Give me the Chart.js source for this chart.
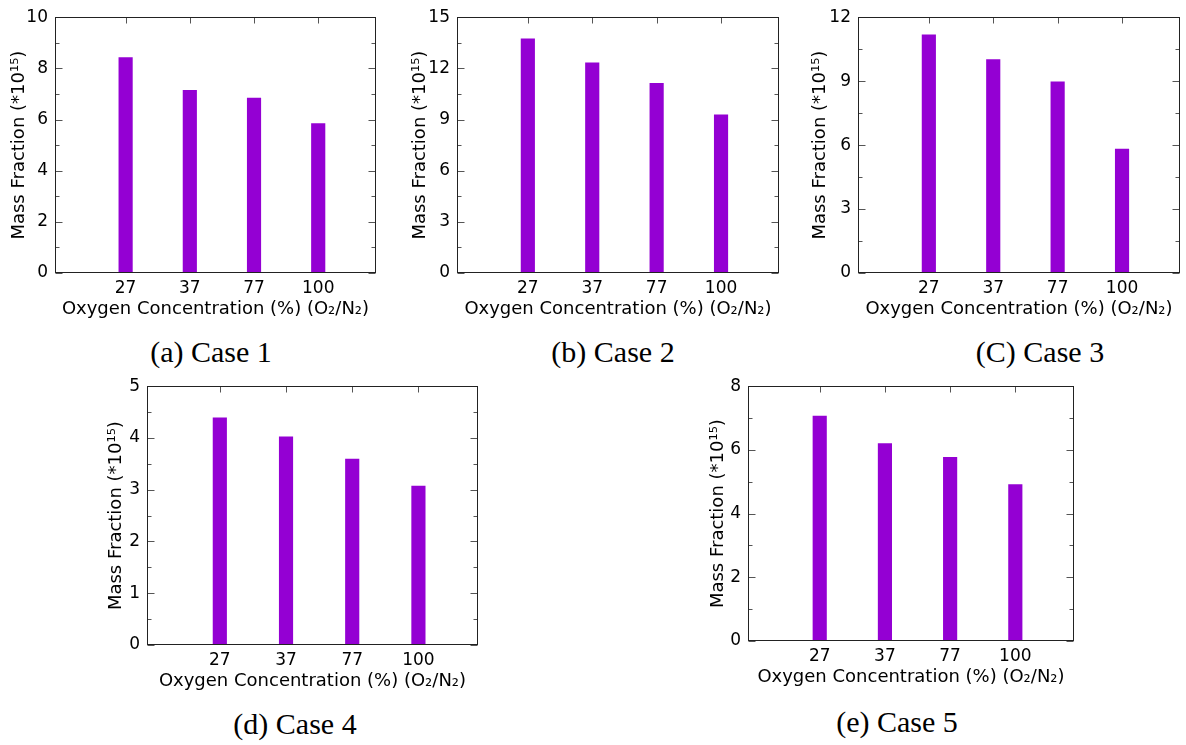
<!DOCTYPE html>
<html>
<head>
<meta charset="utf-8">
<script src="https://cdn.jsdelivr.net/npm/chart.js@4/dist/chart.umd.min.js"></script>
<style>
  body { margin: 0; background: #fff; }
  #page { position: relative; width: 1186px; height: 745px; overflow: hidden; }
  .box { position: absolute; }
  .cap { position: absolute; font-family: "Liberation Serif", serif; font-size: 30px; color: #000;
         transform: translate(-50%, -50%); white-space: nowrap; }
</style>
</head>
<body>
<div id="page"></div>
<script>
// data (values in *10^15)
const oxygenLabels = ['27', '37', '77', '100'];
const case1Values = [8.42, 7.14, 6.84, 5.84];
const case2Values = [13.73, 12.32, 11.12, 9.28];
const case3Values = [11.17, 10.01, 8.97, 5.81];
const case4Values = [4.39, 4.02, 3.59, 3.07];
const case5Values = [7.06, 6.20, 5.77, 4.91];
const yMaxes = [10, 15, 12, 5, 8];
const ySteps = [2, 3, 3, 1, 2];
const captions = ['(a) Case 1', '(b) Case 2', '(C) Case 3', '(d) Case 4', '(e) Case 5'];

const allValues = [case1Values, case2Values, case3Values, case4Values, case5Values];

// plot area on the page: left, top, right, bottom, y-title offset, caption centre
const panels = [
  { l: 55, t: 14, r: 376, b: 273, tp: 8.7, cx: 211, cy: 352 },
  { l: 457, t: 14, r: 779, b: 273, tp: 7.7, cx: 613, cy: 352 },
  { l: 858, t: 14, r: 1180, b: 273, tp: 6.7, cx: 1040, cy: 352 },
  { l: 147, t: 383, r: 478, b: 645, tp: 13.2, cx: 295, cy: 724 },
  { l: 748, t: 383, r: 1074, b: 641, tp: 14.7, cx: 897, cy: 722 }
];

Chart.defaults.font.family = "'DejaVu Sans', sans-serif";
Chart.defaults.color = '#000';

// gnuplot style frame with inward ticks
const frameTicks = {
  id: 'frameTicks',
  afterDatasetsDraw(chart, args, opts) {
    const { ctx, chartArea: a, scales: { x, y } } = chart;
    const L = Math.round(a.left) + 0.5, R = Math.round(a.right) - 0.5;
    const T = Math.round(a.top) + 0.5, B = Math.round(a.bottom) - 0.5;
    ctx.save();
    ctx.strokeStyle = '#555';
    ctx.lineWidth = 1;
    ctx.beginPath();
    const half = opts.step / 2;
    for (let k = 0; k * half <= y.max + 1e-9; k++) {
      const py = Math.round(y.getPixelForValue(k * half)) + 0.5;
      const len = k % 2 === 0 ? 7 : 4;
      ctx.moveTo(L, py); ctx.lineTo(L + len, py);
      ctx.moveTo(R - len, py); ctx.lineTo(R, py);
    }
    oxygenLabels.forEach((lab, i) => {
      const px = Math.round(x.getPixelForValue(i)) + 0.5;
      ctx.moveTo(px, T); ctx.lineTo(px, T + 6);
    });
    ctx.stroke();
    ctx.strokeStyle = '#222';
    ctx.strokeRect(L, T, R - L, B - T);
    ctx.restore();
  }
};

const page = document.getElementById('page');

panels.forEach((p, n) => {
  const left = p.l - 55, top = p.t - 14;
  const w = p.r - left + 4, h = p.b + 50 - top;
  const box = document.createElement('div');
  box.className = 'box';
  box.style.left = left + 'px';
  box.style.top = top + 'px';
  box.style.width = w + 'px';
  box.style.height = h + 'px';
  const canvas = document.createElement('canvas');
  box.appendChild(canvas);
  page.appendChild(box);

  const cap = document.createElement('div');
  cap.className = 'cap';
  cap.style.left = p.cx + 'px';
  cap.style.top = p.cy + 'px';
  cap.textContent = captions[n];
  page.appendChild(cap);

  new Chart(canvas, {
    type: 'bar',
    data: {
      datasets: [{
        data: allValues[n].map((v, i) => ({ x: i, y: v })),
        backgroundColor: '#9400d3',
        borderWidth: 0,
        barThickness: 13.5
      }]
    },
    options: {
      responsive: true,
      maintainAspectRatio: false,
      animation: false,
      layout: { padding: { top: 14, right: 4, left: 0, bottom: 0 } },
      plugins: {
        legend: { display: false },
        tooltip: { enabled: false },
        frameTicks: { step: ySteps[n] }
      },
      scales: {
        x: {
          type: 'linear',
          min: -1.1,
          max: 3.9,
          offset: false,
          grid: { display: false, drawTicks: false },
          border: { display: false },
          afterBuildTicks: (s) => { s.ticks = oxygenLabels.map((lab, i) => ({ value: i })); },
          afterFit: (s) => { s.height = 50; },
          ticks: {
            autoSkip: false,
            maxRotation: 0,
            padding: 5,
            font: { size: 17 },
            callback: (v) => oxygenLabels[v]
          },
          title: {
            display: true,
            text: 'Oxygen Concentration (%) (O\u2082/N\u2082)',
            font: { size: 18 },
            padding: { top: 0, bottom: 3 }
          }
        },
        y: {
          min: 0,
          max: yMaxes[n],
          grid: { display: false, drawTicks: false },
          border: { display: false },
          afterFit: (s) => { s.width = 55; },
          ticks: { stepSize: ySteps[n], padding: 7, font: { size: 17 } },
          title: {
            display: true,
            text: 'Mass Fraction (*10\u00b9\u2075)',
            font: { size: 18 },
            padding: { top: p.tp, bottom: 0 }
          }
        }
      }
    },
    plugins: [frameTicks]
  });
});
</script>
</body>
</html>
